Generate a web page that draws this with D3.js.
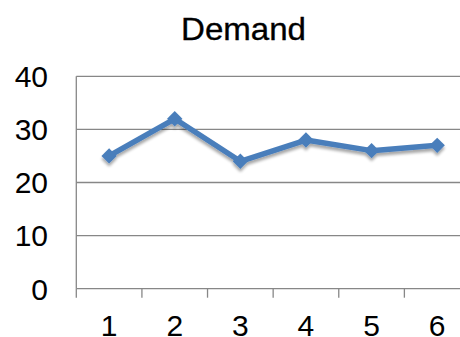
<!DOCTYPE html>
<html>
<head>
<meta charset="utf-8">
<script src="https://cdn.jsdelivr.net/npm/d3@7"></script>
<style>
  html, body { margin: 0; padding: 0; background: #fff; }
  svg { display: block; font-family: "Liberation Sans", Arial, sans-serif; }
</style>
</head>
<body>
<svg id="chart" width="460" height="337"></svg>
<script>
// Demand per period
const periods = [1, 2, 3, 4, 5, 6];
const demand = [25, 32, 24, 28, 26, 27];
const yTicks = [0, 10, 20, 30, 40];
const title = "Demand";

const svg = d3.select("#chart");
const W = 460, H = 337;
const plot = { left: 76.3, right: 470, top: 76.3, bottom: 288.7 };

const x = d3.scaleBand().domain(periods).range([plot.left, plot.right]).padding(0);
const y = d3.scaleLinear().domain([0, 40]).range([plot.bottom, plot.top]);

const defs = svg.append("defs");
const shadow = defs.append("filter").attr("id", "shadow")
  .attr("x", "-20%").attr("y", "-20%").attr("width", "140%").attr("height", "160%");
shadow.append("feGaussianBlur").attr("in", "SourceAlpha").attr("stdDeviation", 1.6).attr("result", "b");
shadow.append("feOffset").attr("in", "b").attr("dx", 0).attr("dy", 2.5).attr("result", "o");
shadow.append("feComponentTransfer").attr("in", "o").attr("result", "s")
  .append("feFuncA").attr("type", "linear").attr("slope", 0.35);
const merge = shadow.append("feMerge");
merge.append("feMergeNode").attr("in", "s");
merge.append("feMergeNode").attr("in", "SourceGraphic");

// Title
svg.append("text")
  .attr("x", 181).attr("y", 39.5)
  .attr("font-size", 31.5)
  .attr("textLength", 125)
  .attr("lengthAdjust", "spacingAndGlyphs")
  .attr("stroke", "#000").attr("stroke-width", 0.35)
  .attr("fill", "#000")
  .text(title);

// Horizontal gridlines
svg.append("g")
  .selectAll("line")
  .data(yTicks)
  .join("line")
  .attr("x1", plot.left).attr("x2", W)
  .attr("y1", d => y(d)).attr("y2", d => y(d))
  .attr("stroke", "#878787").attr("stroke-width", 1.3);

// Value axis line
svg.append("line")
  .attr("x1", plot.left).attr("x2", plot.left)
  .attr("y1", y(40)).attr("y2", y(0))
  .attr("stroke", "#878787").attr("stroke-width", 1.3);

// Category tick marks at band boundaries
const bounds = periods.map(p => x(p)).concat([x(periods[periods.length - 1]) + x.bandwidth()]);
svg.append("g")
  .selectAll("line")
  .data(bounds)
  .join("line")
  .attr("x1", d => d).attr("x2", d => d)
  .attr("y1", y(0)).attr("y2", y(0) + 9)
  .attr("stroke", "#878787").attr("stroke-width", 1.3);

// Y tick labels
svg.append("g")
  .selectAll("text")
  .data(yTicks)
  .join("text")
  .attr("x", 48).attr("y", d => y(d))
  .attr("dy", "0.36em")
  .attr("text-anchor", "end")
  .attr("font-size", 30)
  .attr("fill", "#000")
  .text(d => d);

// X tick labels
svg.append("g")
  .selectAll("text")
  .data(periods)
  .join("text")
  .attr("x", d => x(d) + x.bandwidth() / 2)
  .attr("y", 336)
  .attr("text-anchor", "middle")
  .attr("font-size", 30)
  .attr("fill", "#000")
  .text(d => d);

// Series line with diamond markers
const series = svg.append("g").attr("filter", "url(#shadow)");
const line = d3.line()
  .x((d, i) => x(periods[i]) + x.bandwidth() / 2)
  .y(d => y(d));
series.append("path")
  .datum(demand)
  .attr("d", line)
  .attr("fill", "none")
  .attr("stroke", "#4a7ebb")
  .attr("stroke-width", 5.5)
  .attr("stroke-linejoin", "round");

const diamond = d3.symbol().type(d3.symbolDiamond2).size(150);
series.selectAll("path.marker")
  .data(demand)
  .join("path")
  .attr("class", "marker")
  .attr("transform", (d, i) => `translate(${x(periods[i]) + x.bandwidth() / 2},${y(d)})`)
  .attr("d", diamond)
  .attr("fill", "#4a7ebb");
</script>
</body>
</html>
